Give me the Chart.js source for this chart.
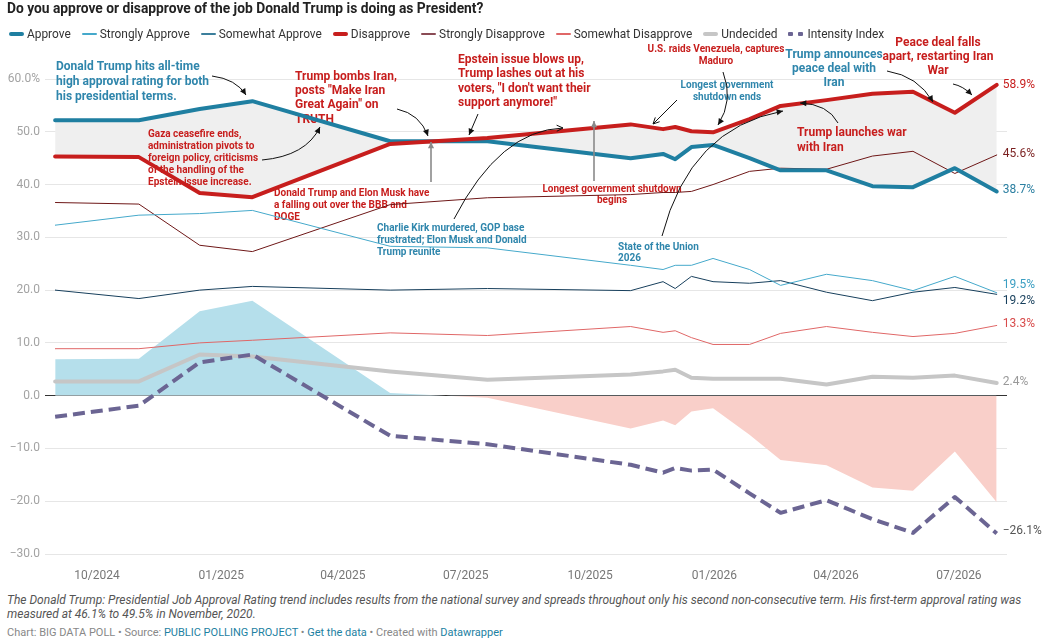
<!DOCTYPE html>
<html>
<head>
<meta charset="utf-8">
<script src="https://cdn.jsdelivr.net/npm/chart.js@4.4.1/dist/chart.umd.min.js"></script>
<style>
  html,body{margin:0;padding:0;background:#fff;}
  body{width:1049px;height:644px;position:relative;overflow:hidden;font-family:Roboto,"Noto Sans",Arial,sans-serif;}
  #title{position:absolute;left:7px;top:0px;font-size:13.8px;font-weight:700;color:#222;white-space:nowrap;}
  #legend{position:absolute;left:9px;top:27px;display:flex;align-items:center;font-size:11.9px;color:#333;white-space:nowrap;}
  .li{display:flex;align-items:center;margin-right:11px;}
  .sw{display:inline-block;width:15px;margin-right:3px;border-radius:2px;}
  .dots{display:inline-flex;width:15px;margin-right:4px;justify-content:space-between;}
  .dots i{display:inline-block;width:5px;height:4px;background:#6b6593;border-radius:1px;}
  #wrap{position:absolute;left:0;top:0;width:1049px;height:590px;}
  #notes{position:absolute;left:7px;top:594px;font-size:12px;font-style:italic;color:#555;line-height:13.5px;white-space:nowrap;}
  #byline{position:absolute;left:7px;top:626px;font-size:11px;color:#888;white-space:nowrap;}
  #byline a{color:#1d81a2;text-decoration:none;}
</style>
</head>
<body>
<div id="wrap"><canvas id="c" width="1049" height="590"></canvas></div>
<div id="title">Do you approve or disapprove of the job Donald Trump is doing as President?</div>
<div id="legend"></div>
<div id="notes">The Donald Trump: Presidential Job Approval Rating trend includes results from the national survey and spreads throughout only his second non-consecutive term. His first-term approval rating was<br>measured at 46.1% to 49.5% in November, 2020.</div>
<div id="byline">Chart: BIG DATA POLL • Source: <a>PUBLIC POLLING PROJECT</a> • <a>Get the data</a> • Created with <a>Datawrapper</a></div>
<script>
// ---------- DATA ----------
const dates = ['2024-08-31','2024-11-01','2024-12-16','2025-01-24','2025-05-06','2025-07-17','2025-10-31','2025-11-24','2025-12-03','2025-12-15','2025-12-31','2026-01-27','2026-02-19','2026-03-25','2026-04-28','2026-05-28','2026-06-28','2026-07-29'];
const approve            = [52.2, 52.2, 54.3, 55.8, 48.2, 48.2, 45.0, 45.8, 44.8, 47.1, 47.5, 45.0, 42.7, 42.7, 39.7, 39.5, 43.1, 38.7];
const stronglyApprove    = [32.3, 34.2, 34.5, 35.1, 28.3, 28.0, 24.7, 23.9, 24.7, 24.7, 26.0, 23.9, 20.9, 23.0, 21.8, 19.9, 22.6, 19.5];
const somewhatApprove    = [20.0, 18.4, 20.0, 20.7, 20.0, 20.3, 19.9, 21.6, 20.3, 22.6, 21.6, 21.3, 21.8, 19.6, 18.0, 19.6, 20.5, 19.2];
const disapprove         = [45.3, 45.2, 38.4, 37.6, 47.7, 48.8, 51.4, 50.5, 50.9, 50.1, 49.9, 52.4, 54.9, 56.0, 57.2, 57.6, 53.6, 58.9];
const stronglyDisapprove = [36.6, 36.3, 28.5, 27.3, 36.2, 37.5, 38.1, 38.5, 38.5, 38.7, 40.0, 42.5, 43.1, 42.9, 45.4, 46.3, 42.1, 45.6];
const somewhatDisapprove = [8.9, 8.9, 10.0, 10.5, 11.9, 11.4, 13.1, 12.0, 12.3, 11.0, 9.7, 9.7, 11.8, 13.1, 12.0, 11.2, 11.8, 13.3];
const undecided          = [2.7, 2.7, 7.8, 7.4, 4.6, 3.0, 4.0, 4.6, 4.9, 3.4, 3.2, 3.2, 3.2, 2.1, 3.6, 3.4, 3.8, 2.4];
const intensityIndex     = [-4.0, -1.9, 6.3, 7.8, -7.6, -9.2, -13.1, -14.6, -13.7, -14.2, -14.0, -18.5, -22.2, -19.8, -23.4, -26.0, -19.2, -26.1];
const netApproval        = [6.9, 7.0, 16.0, 18.0, 0.5, -0.4, -6.2, -4.7, -5.6, -3.0, -2.4, -7.4, -12.2, -13.2, -17.4, -18.0, -10.6, -20.2];

const xTickDates  = ['2024-10-01','2025-01-01','2025-04-01','2025-07-01','2025-10-01','2026-01-01','2026-04-01','2026-07-01'];
const xTickLabels = ['10/2024','01/2025','04/2025','07/2025','10/2025','01/2026','04/2026','07/2026'];
const yTickValues = [-30,-20,-10,0,10,20,30,40,50,60];
const yTickLabels = ['\u221230.0','\u221220.0','\u221210.0','0.0','10.0','20.0','30.0','40.0','50.0','60.0%'];

// ---------- helpers ----------
const day0 = Date.UTC(2024,9,1);
const toDay = s => (Date.UTC(+s.slice(0,4), +s.slice(5,7)-1, +s.slice(8,10)) - day0) / 864e5;
const xs = dates.map(toDay);
const pts = arr => arr.map((v,i)=>({x:xs[i], y:v}));
const xTickVals = xTickDates.map(toDay);

const C = {
  approve:'#1f7fa1', sApprove:'#45a9cb', swApprove:'#173f5c',
  disapprove:'#c71e1d', sDisapprove:'#6e1717', swDisapprove:'#e06767',
  undecided:'#c6c6c6', intensity:'#6b6593', teal:'#2f86ac', red:'#c71e1d'
};

// legend
const legendItems = [
  ['Approve', C.approve, 4],['Strongly Approve', C.sApprove, 1.5],['Somewhat Approve', '#3c7f9c', 1.5],
  ['Disapprove', C.disapprove, 4],['Strongly Disapprove', '#8a4b55', 1.5],['Somewhat Disapprove', C.swDisapprove, 1.5],
  ['Undecided', C.undecided, 4],['Intensity Index', null, 0]
];
const lg = document.getElementById('legend');
legendItems.forEach(([t,c,h])=>{
  const d=document.createElement('span'); d.className='li';
  if(c){ d.innerHTML='<span class="sw" style="height:'+h+'px;background:'+c+'"></span>'+t; }
  else { d.innerHTML='<span class="dots"><i></i><i></i></span>'+t; }
  lg.appendChild(d);
});

// ---------- annotations ----------
const texts = [
  {c:C.teal, s:12, a:'left',   x:56,  y:67,  lh:15,   t:['Donald Trump hits all-time','high approval rating for both','his presidential terms.']},
  {c:C.red,  s:12, a:'left',   x:295, y:77,  lh:14.2, t:['Trump bombs Iran,','posts "Make Iran','Great Again" on','TRUTH']},
  {c:C.red,  s:12, a:'left',   x:458, y:60,  lh:14.4, t:['Epstein issue blows up,','Trump lashes out at his','voters, "I don\'t want their','support anymore!"']},
  {c:C.red,  s:10, a:'left',   x:148, y:134, lh:12,   t:['Gaza ceasefire ends,','administration pivots to','foreign policy, criticisms','of the handling of the','Epstein issue increase.']},
  {c:C.red,  s:10, a:'left',   x:274, y:193, lh:12,   t:['Donald Trump and Elon Musk have','a falling out over the BBB and','DOGE']},
  {c:C.teal, s:10, a:'left',   x:377, y:228, lh:12,   t:['Charlie Kirk murdered, GOP base','frustrated; Elon Musk and Donald','Trump reunite']},
  {c:C.red,  s:10, a:'center', x:612, y:189, lh:11.5, t:['Longest government shutdown','begins']},
  {c:C.teal, s:10, a:'center', x:727, y:85,  lh:12,   t:['Longest government','shutdown ends']},
  {c:C.red,  s:10, a:'center', x:716, y:49,  lh:12,   t:['U.S. raids Venezuela, captures','Maduro']},
  {c:C.teal, s:12, a:'center', x:834, y:55,  lh:14,   t:['Trump announces','peace deal with','Iran']},
  {c:C.red,  s:12, a:'center', x:938, y:43,  lh:14,   t:['Peace deal falls','apart, restarting Iran','War']},
  {c:C.red,  s:12, a:'left',   x:797, y:133, lh:15,   t:['Trump launches war','with Iran']},
  {c:C.teal, s:10, a:'left',   x:618, y:247, lh:11,   t:['State of the Union','2026']}
];
// arrows: from, control (optional), to
const arrows = [
  {f:[212,76], q:[236,79], to:[246,95]},
  {f:[397,109], q:[420,114], to:[428,136]},
  {f:[262,160], q:[306,156], to:[320,127]},
  {f:[478,114], to:[469,135]},
  {f:[431,182], to:[431,142], col:'#8a8a8a', w:1.6},
  {f:[454,219], q:[500,130], to:[563,128], open:true},
  {f:[594,181], to:[594,121], col:'#8a8a8a', w:1.6},
  {f:[677,100], to:[653,124], open:true},
  {f:[723,72], q:[734,100], to:[718,125]},
  {f:[662,236], q:[690,128], to:[783,111]},
  {f:[838,123], q:[828,104], to:[800,103]},
  {f:[887,71], q:[918,76], to:[933,102]},
  {f:[953,84], q:[963,86], to:[972,95]}
];

function drawArrow(ctx, a){
  const col = a.col || '#111', w = a.w || 1;
  ctx.save();
  ctx.strokeStyle = col; ctx.fillStyle = col; ctx.lineWidth = w;
  ctx.beginPath(); ctx.moveTo(a.f[0],a.f[1]);
  if(a.q) ctx.quadraticCurveTo(a.q[0],a.q[1],a.to[0],a.to[1]); else ctx.lineTo(a.to[0],a.to[1]);
  ctx.stroke();
  const from = a.q || a.f;
  const ang = Math.atan2(a.to[1]-from[1], a.to[0]-from[0]);
  const L = 7, sp = 0.45;
  const p1=[a.to[0]-L*Math.cos(ang-sp), a.to[1]-L*Math.sin(ang-sp)];
  const p2=[a.to[0]-L*Math.cos(ang+sp), a.to[1]-L*Math.sin(ang+sp)];
  ctx.beginPath(); ctx.moveTo(p1[0],p1[1]); ctx.lineTo(a.to[0],a.to[1]); ctx.lineTo(p2[0],p2[1]);
  if(a.open){ ctx.stroke(); } else { ctx.closePath(); ctx.fill(); }
  ctx.restore();
}

const annotPlugin = {
  id:'annot',
  beforeDatasetsDraw(chart){
    const ctx = chart.ctx; ctx.save();
    ctx.textBaseline='middle';
    texts.forEach(o=>{
      ctx.font='700 '+o.s+'px Roboto'; ctx.fillStyle=o.c; ctx.textAlign=o.a;
      o.t.forEach((line,i)=>ctx.fillText(line,o.x,o.y+i*o.lh));
    });
    ctx.restore();
  },
  afterDatasetsDraw(chart){
    const ctx = chart.ctx;
    arrows.forEach(a=>drawArrow(ctx,a));
    // end labels
    ctx.save(); ctx.font='12px Roboto'; ctx.textBaseline='middle'; ctx.textAlign='left';
    const xsc = chart.scales.x, ysc = chart.scales.y;
    endLabels.forEach(l=>{
      const arr = chart.data.datasets[l.ds].data; const p = arr[arr.length-1];
      const s = (p.y<0?'\u2212':'') + Math.abs(p.y).toFixed(1) + '%';
      ctx.fillStyle=l.c;
      ctx.fillText(s, xsc.getPixelForValue(p.x)+6, ysc.getPixelForValue(p.y)+l.dy);
    });
    ctx.restore();
  }
};

// dataset indices
const DS = {intensity:0, disapprove:1, approve:2, undecided:3, sA:4, swA:5, sD:6, swD:7, net:8};
const endLabels = [
  {ds:DS.disapprove, c:C.disapprove, dy:0},
  {ds:DS.sD, c:'#7a1f1f', dy:-1},
  {ds:DS.approve, c:'#2b7fa1', dy:-1},
  {ds:DS.sA, c:'#3a9ec2', dy:-8},
  {ds:DS.swA, c:'#173f5c', dy:7},
  {ds:DS.swD, c:'#d84b4b', dy:-1},
  {ds:DS.undecided, c:'#999', dy:-1},
  {ds:DS.intensity, c:'#555', dy:-2}
];

const line = (data,color,w,extra) => Object.assign({data:pts(data), borderColor:color, borderWidth:w, pointRadius:0, pointHoverRadius:0, tension:0, fill:false, borderJoinStyle:'round', borderCapStyle:'round'}, extra||{});

new Chart(document.getElementById('c'), {
  type:'line',
  data:{ datasets:[
    line(intensityIndex, C.intensity, 4, {borderDash:[12,6], borderCapStyle:'butt', borderJoinStyle:'round'}),
    line(disapprove, C.disapprove, 4),
    line(approve, C.approve, 4, {fill:{target:DS.disapprove, above:'#efefef', below:'#efefef'}, backgroundColor:'#efefef'}),
    line(undecided, C.undecided, 4),
    line(stronglyApprove, C.sApprove, 1),
    line(somewhatApprove, C.swApprove, 1),
    line(stronglyDisapprove, C.sDisapprove, 1),
    line(somewhatDisapprove, C.swDisapprove, 1),
    line(netApproval, 'rgba(0,0,0,0)', 0, {fill:{target:'origin', above:'#b5dfeb', below:'#f9cfc9'}})
  ]},
  options:{
    responsive:false, animation:false, events:[],
    layout:{padding:{top:79, right:42, bottom:6, left:0}},
    plugins:{legend:{display:false}, tooltip:{enabled:false}, filler:{drawTime:'beforeDatasetsDraw', propagate:false}},
    scales:{
      x:{type:'linear', min:-38.5, max:673.6,
         grid:{display:false}, border:{display:false},
         afterBuildTicks:s=>{ s.ticks = xTickVals.map(v=>({value:v})); },
         afterFit:s=>{ s.height = 30; },
         ticks:{autoSkip:false, maxRotation:0, padding:7, color:'#777', font:{family:'Roboto', size:12},
                callback:v=>xTickLabels[xTickVals.indexOf(v)] }},
      y:{type:'linear', min:-30, max:60,
         afterBuildTicks:s=>{ s.ticks = yTickValues.map(v=>({value:v})); },
         afterFit:s=>{ s.width = 45; },
         border:{display:false},
         grid:{drawTicks:false, lineWidth:1, color:c=> c.tick && c.tick.value===0 ? '#333' : '#e6e6e6'},
         ticks:{padding:5, color:'#a3a3a3', font:{family:'Roboto', size:12},
                callback:v=>yTickLabels[yTickValues.indexOf(v)] }}
    }
  },
  plugins:[annotPlugin]
});
</script>
</body>
</html>
